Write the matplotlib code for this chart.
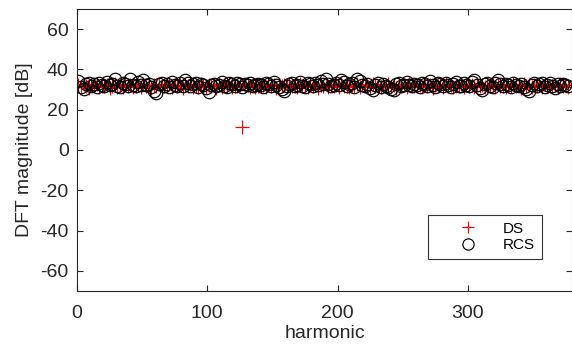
import numpy as np
import matplotlib
matplotlib.use("Agg")
import matplotlib.pyplot as plt

plt.rcParams['font.family'] = ['Liberation Sans', 'DejaVu Sans']
plt.rcParams['axes.unicode_minus'] = False

harmonics = list(range(1, 378, 2))

ds_db = [
    32.1, 31.4, 32.6, 31.8, 30.9, 32.3, 31.7, 32.9, 31.2, 32.0,
    31.6, 32.4, 30.8, 31.9, 32.7, 31.3, 32.2, 31.5, 33.0, 31.8,
    32.3, 31.1, 31.9, 32.5, 31.4, 32.8, 31.6, 32.1, 30.9, 32.4,
    31.7, 32.6, 31.2, 32.0, 31.8, 32.9, 31.3, 32.2, 31.6, 32.5,
    31.0, 32.3, 31.8, 32.7, 31.5, 32.0, 31.4, 32.8, 31.9, 31.2,
    32.4, 31.7, 32.1, 30.8, 32.6, 31.5, 32.2, 31.9, 32.9, 31.3,
    32.0, 31.6, 32.5, 11.2, 31.8, 32.3, 31.1, 32.7, 31.5, 32.0,
    31.9, 32.4, 31.3, 32.8, 31.6, 32.1, 30.9, 32.5, 31.8, 32.2,
    31.4, 32.7, 31.7, 32.0, 31.2, 32.6, 31.9, 32.3, 31.5, 32.9,
    31.6, 32.2, 31.0, 32.4, 31.8, 32.7, 31.3, 32.1, 31.9, 32.5,
    31.2, 32.8, 31.7, 32.0, 31.5, 32.3, 31.9, 32.6, 31.1, 32.2,
    31.8, 32.5, 31.4, 32.9, 31.6, 32.0, 31.3, 32.4, 31.9, 32.7,
    31.5, 32.1, 30.9, 32.6, 31.8, 32.3, 31.2, 32.8, 31.7, 32.0,
    31.9, 32.4, 31.4, 32.7, 31.6, 32.2, 31.0, 32.5, 31.8, 32.1,
    31.3, 32.9, 31.7, 32.3, 31.5, 32.0, 31.9, 32.6, 31.2, 32.4,
    31.8, 32.2, 31.4, 32.8, 31.6, 32.1, 31.1, 32.5, 31.9, 32.3,
    31.5, 32.7, 31.7, 32.0, 31.3, 32.4, 31.8, 32.9, 31.6, 32.2,
    31.0, 32.6, 31.9, 32.3, 31.4, 32.1, 31.7, 32.5, 31.2, 32.8,
    31.6, 32.0, 31.8, 32.4, 31.3, 32.7, 31.9, 32.2, 31.5,
]

rcs_db = [
    34.0, 31.5, 30.2, 32.8, 33.4, 31.9, 32.6, 31.2, 33.1, 32.4,
    31.8, 33.6, 32.2, 32.9, 35.0, 32.0, 31.4, 33.3, 32.7, 31.6,
    35.1, 32.3, 31.7, 33.8, 32.5, 34.6, 32.1, 33.0, 31.3, 29.5,
    28.4, 32.6, 33.4, 31.8, 32.9, 31.2, 33.7, 32.4, 31.9, 33.2,
    32.0, 34.8, 33.5, 31.6, 32.7, 33.1, 31.5, 32.8, 32.2, 31.0,
    28.9, 32.5, 33.0, 31.7, 32.3, 33.6, 32.0, 31.4, 33.2, 32.6,
    31.9, 33.4, 32.7, 31.3, 32.9, 32.2, 33.5, 31.8, 32.4, 33.0,
    32.1, 31.5, 33.3, 32.6, 31.9, 33.7, 32.3, 31.2, 30.4, 29.3,
    31.6, 32.8, 33.2, 31.7, 32.5, 33.9, 32.0, 31.4, 33.1, 32.6,
    31.8, 33.4, 32.2, 34.1, 32.7, 35.4, 33.0, 31.6, 32.4, 33.5,
    32.1, 34.9, 33.6, 31.9, 32.8, 33.2, 31.5, 35.3, 34.2, 32.3,
    31.7, 33.0, 30.6, 29.8, 32.5, 33.4, 31.2, 32.9, 32.0, 31.4,
    30.1, 29.9, 32.6, 33.3, 31.8, 32.2, 33.7, 32.4, 31.6, 33.0,
    32.5, 31.3, 33.2, 32.8, 31.9, 34.0, 32.1, 31.5, 33.4, 32.7,
    31.8, 33.1, 32.4, 31.2, 32.9, 33.6, 32.0, 31.7, 33.3, 32.5,
    31.6, 33.8, 34.9, 32.2, 31.0, 29.6, 32.7, 33.4, 32.0, 31.5,
    33.2, 34.8, 32.6, 31.8, 33.0, 32.3, 31.4, 33.5, 32.1, 31.9,
    32.8, 31.2, 30.3, 29.5, 32.4, 33.1, 31.7, 32.6, 33.3, 31.5,
    32.2, 33.4, 31.8, 30.8, 32.9, 31.6, 33.0, 32.3, 31.9,
]

x_ticks = [0, 100, 200, 300]
y_ticks = [-60, -40, -20, 0, 20, 40, 60]

fig = plt.figure(figsize=(5.72, 3.45), dpi=100)
ax = fig.add_axes([0.1346, 0.1565, 0.8654, 0.8175])

ax.plot(harmonics, ds_db, linestyle='none', marker='+', color='#ff0000',
        markersize=9.5, markeredgewidth=0.85, label='DS')
ax.plot(harmonics, rcs_db, linestyle='none', marker='o', markerfacecolor='none',
        markeredgecolor='black', markersize=9, markeredgewidth=0.85, label='RCS')

ax.set_xlim(0, 380)
ax.set_ylim(-70, 70)
ax.set_xticks(x_ticks)
ax.set_yticks(y_ticks)
ax.tick_params(direction='in', length=4, width=0.8, labelsize=14,
               colors='#262626', top=True, right=True)
ax.tick_params(axis='x', pad=10)
ax.tick_params(axis='y', pad=6)
for s in ax.spines.values():
    s.set_color('#262626')
    s.set_linewidth(0.8)

ax.set_xlabel('harmonic', fontsize=14, color='#262626', labelpad=2)
ax.set_ylabel('DFT magnitude [dB]', fontsize=14, color='#262626', labelpad=5)

leg = ax.legend(loc='lower left', bbox_to_anchor=(0.709, 0.113), borderaxespad=0,
                fontsize=11, frameon=True, fancybox=False, edgecolor='black',
                handlelength=4.33, handletextpad=0.12, borderpad=0.45,
                labelspacing=0.18, markerscale=0.9)
leg.get_frame().set_linewidth(0.8)

fig.savefig('out.png', dpi=100)
